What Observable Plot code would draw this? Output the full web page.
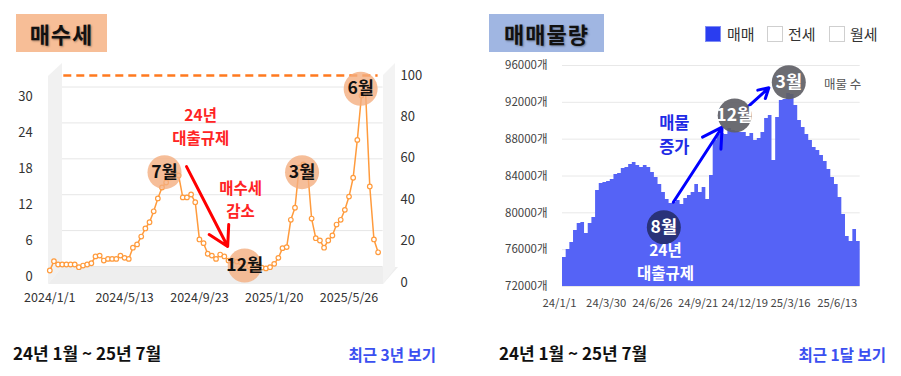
<!DOCTYPE html>
<html><head><meta charset="utf-8">
<script src="https://cdn.jsdelivr.net/npm/d3@7"></script>
<script src="https://cdn.jsdelivr.net/npm/@observablehq/plot@0.6"></script>
<style>
body{margin:0;width:901px;height:376px;background:#fff;position:relative;overflow:hidden;font-family:"Noto Sans CJK KR","Noto Sans",sans-serif;}
.abs{position:absolute;}
.title{font-weight:700;font-size:22px;color:#111;text-align:center;line-height:38px;height:38px;letter-spacing:1px;text-shadow:1px 1px 2px rgba(0,0,0,0.35);}
.foot{font-weight:700;font-size:17px;color:#111;line-height:20px;}
.link{font-weight:700;font-size:15.5px;color:#3b50f0;line-height:20px;}
.box{width:16px;height:16px;box-sizing:border-box;}
.leg{font-size:15px;color:#333;line-height:18px;}
svg text{font-family:"Noto Sans CJK KR","Noto Sans",sans-serif;}
</style></head><body>
<svg class="abs" style="left:0;top:0" width="450" height="310">
  <polygon points="48,76 62,63 62,267 48,284" fill="#f1f1f1"/>
  <polygon points="48,284 62,267 398,267 383,284" fill="#eeeeee"/>
  <polygon points="383,75 395,63 395,268 383,284" fill="#f3f3f3"/>
</svg>
<div id="left" class="abs" style="left:0;top:0"></div>
<div id="right" class="abs" style="left:450px;top:0"></div>

<div class="abs title" style="left:16px;top:14px;width:91px;background:#F7BE97;">매수세</div>
<div class="abs title" style="left:489px;top:14px;width:115px;background:#A0B6E2;">매매물량</div>

<div class="abs box" style="left:705px;top:26px;background:#2A3DF0;border:1px solid #7f8cf5;"></div>
<div class="abs leg" style="left:727px;top:25px;">매매</div>
<div class="abs box" style="left:767px;top:26px;background:#fff;border:1px solid #cfcfcf;"></div>
<div class="abs leg" style="left:788px;top:25px;">전세</div>
<div class="abs box" style="left:829px;top:26px;background:#fff;border:1px solid #cfcfcf;"></div>
<div class="abs leg" style="left:850px;top:25px;">월세</div>

<div class="abs foot" style="left:13px;top:343px;">24년 1월 ~ 25년 7월</div>
<div class="abs link" style="right:465px;top:344px;">최근 3년 보기</div>
<div class="abs foot" style="left:499px;top:343px;">24년 1월 ~ 25년 7월</div>
<div class="abs link" style="right:15px;top:344px;">최근 1달 보기</div>

<script>
// ---------- Left chart: 매수세 (weekly index, right axis 0-100) ----------
const buyValues = [
  5.8, 10.3, 8.7, 8.7, 8.7, 8.7, 8.7, 7.4, 8.2, 8.7,
  9.3, 12.6, 13.0, 10.6, 11.4, 11.4, 11.4, 13.0, 11.9, 11.4,
  16.8, 18.4, 22.2, 26.1, 29.1, 34.4, 40.6, 45.9, 48.3, 50.7,
  53.1, 51.7, 41.1, 41.1, 42.5, 38.8, 20.8, 19.0, 13.9, 13.0,
  11.4, 13.5, 12.6, 10.6, 10.6, 10.1, 9.7, 8.7, 7.7, 6.8,
  6.8, 7.2, 6.8, 7.4, 9.0, 11.9, 16.6, 17.1, 30.3, 36.1,
  55.6, 57.0, 55.1, 30.9, 21.4, 20.3, 16.8, 20.3, 22.7, 28.0,
  30.3, 35.1, 41.5, 50.6, 68.9, 90.3, 91.4, 46.4, 20.8, 14.6
];
const buyTickIdx = [0, 18, 36, 54, 72];
const buyTickLabels = ["2024/1/1", "2024/5/13", "2024/9/23", "2025/1/20", "2025/5/26"];
const buyRightTicks = [0, 20, 40, 60, 80, 100];
const buyLeftTicks = [0, 6, 12, 18, 24, 30];
const buyLeftRange = [2.9, 89.6];   // where left 0 and left 30 sit on the 0-100 scale
const buyBalance = [100];
const buyAnnotLabels = ["7월", "12월", "3월", "6월"];
const buyAnnotIdx = [27.6, 46.9, 60.7, 74.8];
const buyAnnotVal = [53.3, 8.2, 53.3, 93.6];
const buyNoteLine1 = ["24년", "매수세"];
const buyNoteLine2 = ["대출규제", "감소"];
const buyNoteIdx = [36.3, 45.9];
const buyNoteVal = [74.9, 39.6];
const buyArrow = {x1: 32.9, y1: 56.0, x2: 42.8, y2: 17.4};

const leftAxis = d3.scaleLinear().domain([0, 30]).range(buyLeftRange);
const buyData = buyValues.map((v, i) => ({i, v}));
const buyTicks = buyTickIdx.map((x, k) => ({x, label: buyTickLabels[k]}));
const buyAnnots = buyAnnotLabels.map((t, k) => ({t, x: buyAnnotIdx[k], y: buyAnnotVal[k]}));
const buyNotes = buyNoteLine1.map((t, k) => ({t1: t, t2: buyNoteLine2[k], x: buyNoteIdx[k], y: buyNoteVal[k]}));
const orange = "#FF9B3D";
const font = '"Noto Sans CJK KR","Noto Sans",sans-serif';

const left = Plot.plot({
  width: 450, height: 310,
  marginLeft: 49.3, marginRight: 72.4, marginTop: 75, marginBottom: 28,
  x: {domain: [0, buyValues.length - 1], axis: null},
  y: {domain: [0, 100], axis: null},
  style: {background: "transparent", fontFamily: font, overflow: "visible"},
  marks: [
    Plot.ruleY(buyLeftTicks, {y: d => leftAxis(d), dy: -10, insetLeft: 12.7, insetRight: -5, stroke: "#e6e6e6", strokeWidth: 1}),
    Plot.ruleY(buyBalance, {insetLeft: 14, insetRight: 0, stroke: "#FF7A1F", strokeWidth: 2.5, strokeDasharray: "8 5"}),
    Plot.text(buyLeftTicks, {y: d => leftAxis(d), text: d => String(d), frameAnchor: "left", dx: -17, textAnchor: "end", fontSize: 13, fill: "#333"}),
    Plot.text(buyRightTicks, {y: d => d, text: d => String(d), frameAnchor: "right", dx: 22.4, textAnchor: "start", fontSize: 13, fill: "#333"}),
    Plot.text(buyTicks, {x: "x", text: "label", frameAnchor: "bottom", dy: 19, fontSize: 12.5, fill: "#333"}),
    Plot.line(buyData, {x: "i", y: "v", stroke: orange, strokeWidth: 1.5}),
    Plot.dot(buyData, {x: "i", y: "v", r: 2.3, fill: "white", stroke: orange, strokeWidth: 1.2}),
    Plot.arrow([buyArrow], {x1: "x1", y1: "y1", x2: "x2", y2: "y2", stroke: "#FF0000", strokeWidth: 3, headLength: 11}),
    Plot.dot(buyAnnots, {x: "x", y: "y", r: 17, fill: "#F4AE80", fillOpacity: 0.8}),
    Plot.text(buyAnnots, {x: "x", y: "y", text: "t", fontSize: 17.5, fontWeight: "bold", fill: "#111"}),
    Plot.text(buyNotes, {x: "x", y: "y", text: "t1", dy: -11.5, fontSize: 15.5, fontWeight: "bold", fill: "#FF2424"}),
    Plot.text(buyNotes, {x: "x", y: "y", text: "t2", dy: 11.5, fontSize: 15.5, fontWeight: "bold", fill: "#FF2424"})
  ]
});
document.getElementById("left").appendChild(left);

// ---------- Right chart: 매매물량 (weekly listings) ----------
const listingStart = "2024-01-01";
const listingStepDays = 7;
const listingValues = [
  75150, 76020, 76780, 78080, 78840, 78950, 77760, 78840, 79490, 82430,
  83190, 83290, 83400, 83620, 84160, 84270, 84820, 84920, 85250, 85470,
  85140, 84920, 85140, 84920, 84380, 83840, 83080, 82210, 81450, 81010,
  81120, 81340, 80910, 81560, 81880, 82210, 83080, 82210, 82750, 81450,
  84060, 87860, 88510, 88620, 88510, 89160, 88940, 88830, 88720, 88720,
  88290, 88620, 87860, 88070, 88720, 90250, 90570, 85680, 90350, 92200,
  92310, 92960, 92850, 91660, 90030, 89270, 88510, 87860, 87100, 86770,
  86230, 85580, 84710, 83840, 83080, 81670, 79820, 77430, 76890, 78190,
  76890, 75480
];
const listYTicks = [72000, 76000, 80000, 84000, 88000, 92000, 96000];
const listXTickDates = ["2024-01-01", "2024-03-30", "2024-06-26", "2024-09-21", "2024-12-19", "2025-03-16", "2025-06-13"];
const listXTickLabels = ["24/1/1", "24/3/30", "24/6/26", "24/9/21", "24/12/19", "25/3/16", "25/6/13"];
const listAnnotLabels = ["8월", "12월", "3월"];
const listAnnotDates = ["2024-07-12", "2024-11-24", "2025-03-07"];
const listAnnotVals = [78440, 90570, 94190];
const listAnnotFills = ["#262E6E", "#5f5f66", "#5f5f66"];
const listArrowStart = [["2024-07-30", 81155], ["2024-12-11", 91110]];
const listArrowEnd = [["2024-10-31", 89300], ["2025-01-28", 93580]];
const listNoteLine1 = ["24년", "매물"];
const listNoteLine2 = ["대출규제", "증가"];
const listNoteDates = ["2024-07-15", "2024-08-01"];
const listNoteVals = [74610, 88400];
const listNoteFills = ["#ffffff", "#1F2BE6"];

const start = new Date(listingStart);
const listData = listingValues.map((v, i) => ({date: d3.utcDay.offset(start, i * listingStepDays), v}));
const listXTicks = listXTickDates.map((d, k) => ({date: new Date(d), label: listXTickLabels[k]}));
const listAnnots = listAnnotLabels.map((t, k) => ({t, date: new Date(listAnnotDates[k]), v: listAnnotVals[k], fill: listAnnotFills[k]}));
const listArrows = listArrowStart.map((s, k) => ({x1: new Date(s[0]), y1: s[1], x2: new Date(listArrowEnd[k][0]), y2: listArrowEnd[k][1]}));
const listNotes = listNoteLine1.map((t, k) => ({t1: t, t2: listNoteLine2[k], date: new Date(listNoteDates[k]), v: listNoteVals[k], fill: listNoteFills[k]}));

const right = Plot.plot({
  width: 451, height: 310,
  marginLeft: 112, marginRight: 41.3, marginTop: 65, marginBottom: 24,
  x: {type: "utc", domain: [listData[0].date, listData[listData.length - 1].date], axis: null},
  y: {domain: [72000, 96000], axis: null},
  style: {background: "transparent", fontFamily: font, overflow: "visible"},
  marks: [
    Plot.ruleY(listYTicks, {stroke: "#e8e8e8"}),
    Plot.areaY(listData, {x: "date", y1: 72000, y2: "v", curve: "step-after", fill: "#5563F6"}),
    Plot.text(listYTicks, {y: d => d, text: d => d + "개", frameAnchor: "left", dx: -15, textAnchor: "end", fontSize: 11.5, fill: "#444"}),
    Plot.text(listXTicks, {x: "date", text: "label", frameAnchor: "bottom", dy: 20, dx: -3, fontSize: 11.3, fill: "#444"}),
    Plot.text(["매물 수"], {text: d => d, frameAnchor: "top-right", dy: 15, dx: 1, textAnchor: "end", fontSize: 12.5, fill: "#555"}),
    Plot.arrow(listArrows, {x1: "x1", y1: "y1", x2: "x2", y2: "y2", stroke: "#0000FF", strokeWidth: 3, headLength: 11}),
    Plot.dot(listAnnots, {x: "date", y: "v", r: 17, fill: "fill", fillOpacity: 0.92}),
    Plot.text(listAnnots, {x: "date", y: "v", text: "t", fontSize: 17.5, fontWeight: "bold", fill: "white"}),
    Plot.text([listNotes[0]], {x: "date", y: "v", text: "t1", dy: -11.5, fontSize: 15.5, fontWeight: "bold", fill: "fill"}),
    Plot.text([listNotes[0]], {x: "date", y: "v", text: "t2", dy: 11.5, fontSize: 15.5, fontWeight: "bold", fill: "fill"}),
    Plot.text([listNotes[1]], {x: "date", y: "v", text: "t1", dy: -12, fontSize: 16.5, fontWeight: "bold", fill: "fill"}),
    Plot.text([listNotes[1]], {x: "date", y: "v", text: "t2", dy: 12, fontSize: 16.5, fontWeight: "bold", fill: "fill"})
  ]
});
document.getElementById("right").appendChild(right);
</script>
</body></html>
